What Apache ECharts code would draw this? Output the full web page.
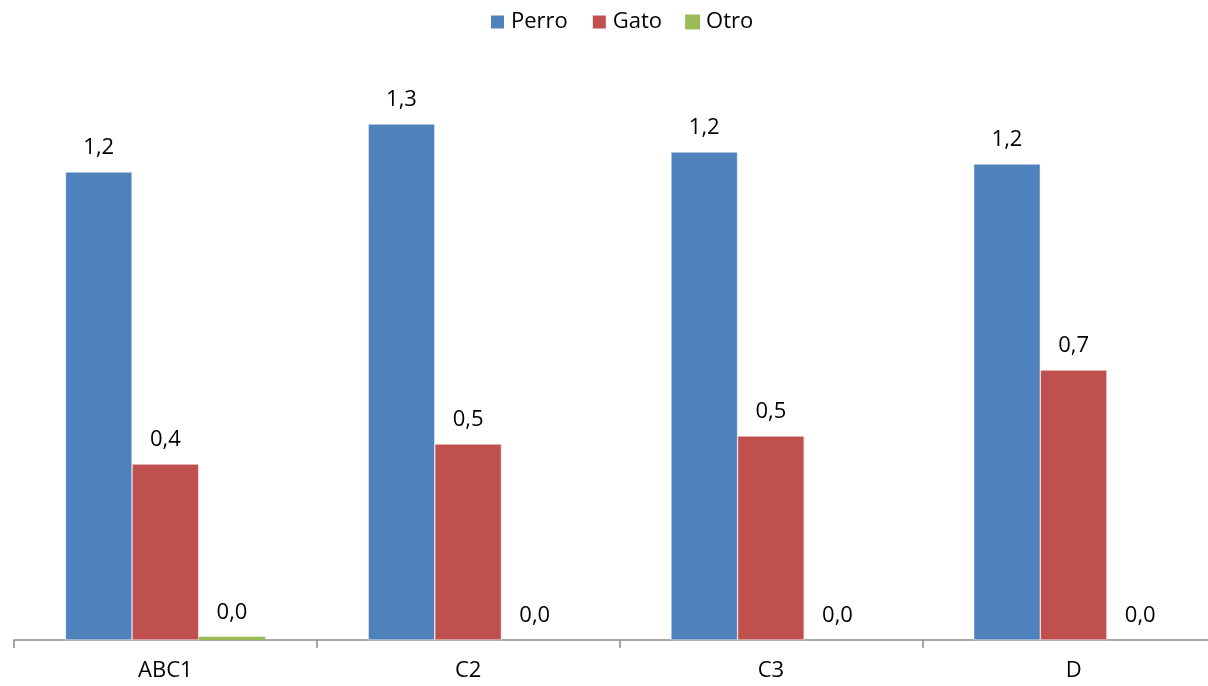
<!DOCTYPE html>
<html>
<head>
<meta charset="utf-8">
<script src="https://cdn.jsdelivr.net/npm/echarts@6/dist/echarts.min.js"></script>
<style>html,body{margin:0;padding:0;background:#fff}#c{width:1208px;height:686px}</style>
</head>
<body>
<div id="c"></div>
<script>
const categories = ['ABC1', 'C2', 'C3', 'D'];
const perro = [1.17, 1.29, 1.22, 1.19];
const gato = [0.44, 0.49, 0.51, 0.675];
const otro = [0.008, 0, 0, 0];
const seriesNames = ['Perro', 'Gato', 'Otro'];
const colors = ['#4F81BD', '#C0504D', '#9BBB59'];

const font = '"Open Sans", "Noto Sans", sans-serif';
const chart = echarts.init(document.getElementById('c'));
const lbl = {
  show: true, position: 'top', distance: 13, color: '#000', fontSize: 22, fontFamily: font,
  formatter: p => p.value.toFixed(1).replace('.', ',')
};
chart.setOption({
  animation: false,
  color: colors,
  legend: {
    top: 6, left: 484, itemWidth: 15, itemHeight: 15, itemGap: 23,
    icon: 'rect',
    textStyle: { fontSize: 22, fontFamily: font, color: '#000', padding: [0, 0, 0, 1] },
    data: seriesNames
  },
  grid: { left: 14, top: 60, right: -17, bottom: 46, containLabel: false, outerBoundsMode: 'none' },
  xAxis: {
    type: 'category', data: categories,
    axisLine: { lineStyle: { color: '#8c8c8c', width: 1.5 } },
    axisTick: { show: true, length: 8, lineStyle: { color: '#8c8c8c', width: 1.5 } },
    axisLabel: { fontSize: 22, fontFamily: font, color: '#000', margin: 20 }
  },
  yAxis: { type: 'value', min: 0, max: 1.45, show: false, splitLine: { show: false } },
  series: [
    { name: seriesNames[0], type: 'bar', data: perro, barGap: '0%', barCategoryGap: '34%', label: lbl, itemStyle: { borderColor: '#fff', borderWidth: 0.5 } },
    { name: seriesNames[1], type: 'bar', data: gato, barGap: '0%', barCategoryGap: '34%', label: lbl, itemStyle: { borderColor: '#fff', borderWidth: 0.5 } },
    { name: seriesNames[2], type: 'bar', data: otro, barGap: '0%', barCategoryGap: '34%', label: lbl, barMinHeight: 0 }
  ]
});
</script>
</body>
</html>
